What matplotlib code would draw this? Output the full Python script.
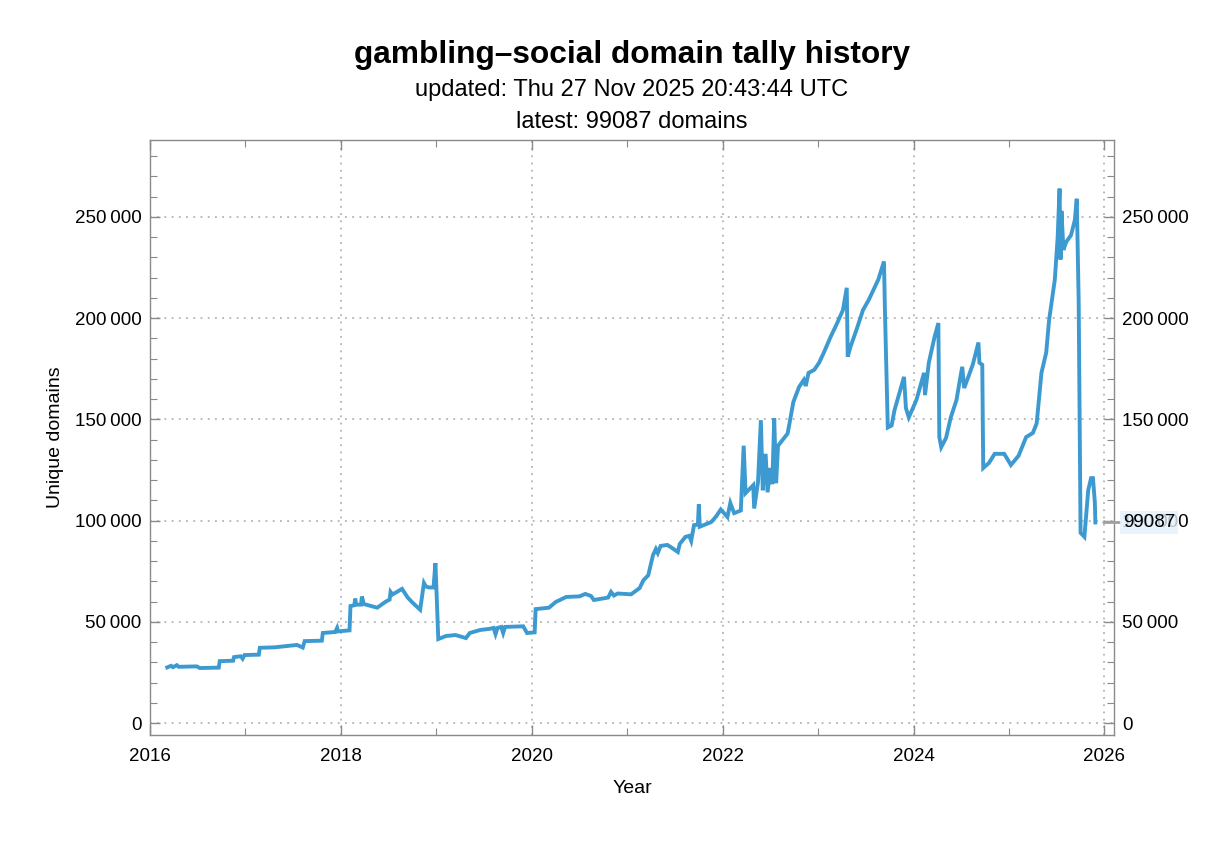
import matplotlib
matplotlib.use("Agg")
import matplotlib.pyplot as plt
from matplotlib.ticker import MultipleLocator, FuncFormatter

plt.rcParams['font.family'] = ['Liberation Sans', 'DejaVu Sans']

# ---- data (decimal year, unique domains) ----
years = [
    2016.18, 2016.22, 2016.24, 2016.28, 2016.30, 2016.49, 2016.52, 2016.72, 2016.73, 2016.87,
    2016.88, 2016.95, 2016.97, 2016.99, 2017.14, 2017.15, 2017.30, 2017.54, 2017.60, 2017.62,
    2017.80, 2017.81, 2017.94, 2017.96, 2017.97, 2018.09, 2018.10, 2018.14, 2018.15, 2018.16,
    2018.21, 2018.22, 2018.24, 2018.38, 2018.47, 2018.51, 2018.52, 2018.54, 2018.64, 2018.70,
    2018.75, 2018.83, 2018.87, 2018.89, 2018.92, 2018.97, 2018.99, 2019.00, 2019.02, 2019.10,
    2019.20, 2019.31, 2019.35, 2019.46, 2019.55, 2019.60, 2019.62, 2019.64, 2019.68, 2019.70,
    2019.72, 2019.91, 2019.95, 2020.03, 2020.04, 2020.18, 2020.25, 2020.36, 2020.50, 2020.56,
    2020.62, 2020.65, 2020.80, 2020.83, 2020.86, 2020.90, 2021.04, 2021.13, 2021.17, 2021.22,
    2021.27, 2021.30, 2021.32, 2021.35, 2021.42, 2021.47, 2021.53, 2021.55, 2021.61, 2021.65,
    2021.67, 2021.70, 2021.74, 2021.75, 2021.76, 2021.88, 2021.93, 2021.98, 2022.05, 2022.08,
    2022.12, 2022.19, 2022.22, 2022.24, 2022.32, 2022.33, 2022.37, 2022.40, 2022.42, 2022.45,
    2022.47, 2022.50, 2022.52, 2022.54, 2022.56, 2022.58, 2022.63, 2022.68, 2022.70, 2022.74,
    2022.80, 2022.85, 2022.87, 2022.90, 2022.96, 2023.01, 2023.06, 2023.13, 2023.20, 2023.26,
    2023.30, 2023.31, 2023.34, 2023.40, 2023.47, 2023.53, 2023.63, 2023.69, 2023.70, 2023.73,
    2023.77, 2023.80, 2023.90, 2023.92, 2023.95, 2024.03, 2024.08, 2024.11, 2024.12, 2024.16,
    2024.22, 2024.26, 2024.27, 2024.29, 2024.34, 2024.39, 2024.45, 2024.48, 2024.51, 2024.53,
    2024.57, 2024.62, 2024.68, 2024.69, 2024.72, 2024.73, 2024.79, 2024.85, 2024.95, 2025.02,
    2025.10, 2025.18, 2025.25, 2025.29, 2025.34, 2025.39, 2025.42, 2025.48, 2025.51, 2025.53,
    2025.54, 2025.55, 2025.57, 2025.60, 2025.65, 2025.69, 2025.71, 2025.73, 2025.75, 2025.79,
    2025.83, 2025.86, 2025.88, 2025.90, 2025.905,
]
domains = [
    27500, 28300, 27600, 28600, 27800, 28000, 27200, 27400, 30600, 30800,
    32600, 33000, 31800, 33600, 33800, 37200, 37400, 38600, 37300, 40500,
    40700, 44500, 45000, 47000, 45300, 45800, 57800, 58200, 61500, 58500,
    58500, 62500, 58800, 57000, 60000, 61000, 64800, 63500, 66300, 62000,
    59500, 56000, 69200, 67500, 67000, 67000, 79000, 67000, 41500, 43000,
    43500, 42000, 44500, 46000, 46500, 47000, 44000, 47000, 47500, 44500,
    47500, 47800, 44500, 44800, 56300, 57000, 59800, 62300, 62600, 63800,
    62800, 60800, 62000, 64800, 63000, 64000, 63600, 66700, 70600, 73000,
    83000, 86000, 84000, 87500, 88000, 86500, 84500, 88500, 92000, 92500,
    90000, 97800, 98000, 108000, 97000, 99300, 102000, 105500, 101800, 108700,
    103700, 105000, 137000, 113600, 117500, 106000, 119000, 149600, 115000, 133000,
    114000, 126000, 118000, 150500, 118500, 137000, 140000, 143000, 148000, 158500,
    166000, 169500, 166500, 173000, 174500, 178000, 183000, 190700, 197600, 204000,
    215000, 181000, 186000, 194000, 204000, 209000, 219000, 228000, 204000, 146000,
    147000, 154500, 171000, 155600, 151000, 159600, 168000, 173000, 162000, 178000,
    190700, 197600, 141300, 136300, 140800, 151000, 159600, 168000, 176000, 165500,
    170500, 177000, 188000, 178000, 177000, 126000, 128500, 133000, 133000, 127500,
    132000, 141300, 143300, 148000, 173000, 183000, 199000, 219000, 240000, 264000,
    229000, 253000, 233700, 237700, 241000, 248500, 259000, 209000, 94000, 92000,
    115000, 121000, 121000, 108700, 99087,
]

title = "gambling\u2013social domain tally history"
updated = "updated: Thu 27 Nov 2025 20:43:44 UTC"
latest_count = 99087

LINE = '#3d9ad1'
FRAME = '#8a8a8a'
GRID = '#b3b3b3'

fig = plt.figure(figsize=(12.32, 8.41), dpi=100)
ax_box = [0.1218, 0.126, 0.7824, 0.7075]
ax = fig.add_axes(ax_box)

ax.plot(years, domains, color=LINE, lw=2.8, solid_joinstyle='miter', zorder=3)

ax.set_xlim(2016.0, 2026.1)
ax.set_ylim(-5900, 288000)

ax.xaxis.set_major_locator(MultipleLocator(2))
ax.xaxis.set_minor_locator(MultipleLocator(1))
ax.yaxis.set_major_locator(MultipleLocator(50000))
ax.yaxis.set_minor_locator(MultipleLocator(10000))

def yfmt(v, pos):
    v = int(round(v))
    if v == 0:
        return "0"
    return f"{v:,}".replace(",", "\u2009")

ax.yaxis.set_major_formatter(FuncFormatter(yfmt))
ax.xaxis.set_major_formatter(FuncFormatter(lambda v, p: f"{int(round(v))}"))

ax.tick_params(axis='both', which='major', direction='in', length=7, width=1,
               color=FRAME, labelsize=13.5, top=True, right=True, labelright=True)
ax.tick_params(axis='y', which='major', pad=6)
ax.tick_params(axis='x', which='major', pad=9)
ax.tick_params(axis='both', which='minor', direction='in', length=5, width=0.8,
               color=FRAME, top=True, right=True)

ax.grid(True, which='major', color=GRID, linestyle=(0, (1, 3)), lw=1.3, zorder=1)

for sp in ax.spines.values():
    sp.set_color(FRAME)
    sp.set_linewidth(1.0)

ax.set_xlabel("Year", fontsize=14, labelpad=11)
ax.set_ylabel("Unique domains", fontsize=14, labelpad=8)

cx = ax_box[0] + ax_box[2] / 2
fig.text(cx, 0.9345, title, ha='center', va='center', fontsize=22.8, fontweight='bold')
fig.text(cx, 0.893, updated, ha='center', va='center', fontsize=17)
fig.text(cx, 0.855, f"latest: {latest_count} domains", ha='center', va='center', fontsize=17)

# end label with leader line
ax.annotate(f"{latest_count}", xy=(years[-1], domains[-1]), xycoords='data',
            xytext=(1.009, domains[-1]), textcoords=('axes fraction', 'data'),
            ha='left', va='center', fontsize=13.5, annotation_clip=False,
            bbox=dict(boxstyle='square,pad=0.15', fc='#e3f0fa', ec='none', alpha=0.8),
            arrowprops=dict(arrowstyle='-', color='#a0a0a0', lw=2,
                            shrinkA=0, shrinkB=6))

fig.savefig("out.png", dpi=100)
